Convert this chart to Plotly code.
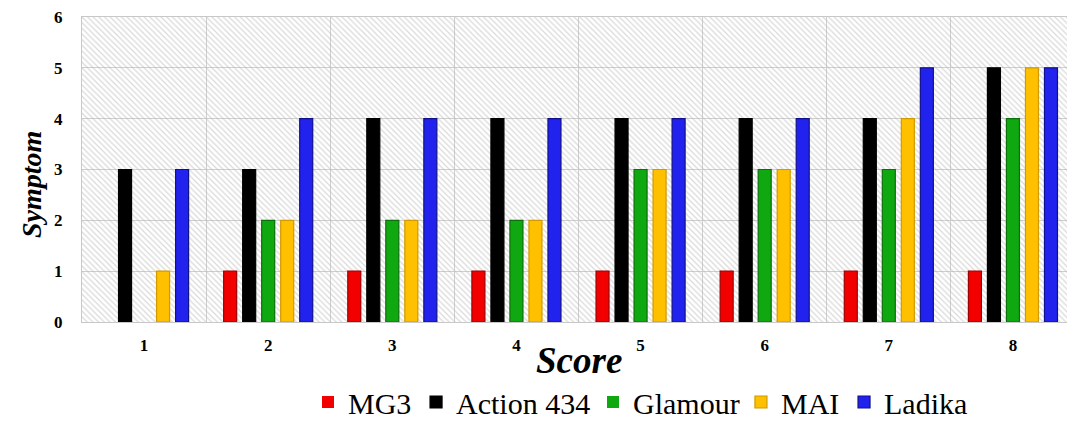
import plotly.graph_objects as go

scores = [1, 2, 3, 4, 5, 6, 7, 8]
series_names = ["MG3", "Action 434", "Glamour", "MAI", "Ladika"]
mg3 = [0, 1, 1, 1, 1, 1, 1, 1]
action434 = [3, 3, 4, 4, 4, 4, 4, 5]
glamour = [0, 2, 2, 2, 3, 3, 3, 4]
mai = [1, 2, 2, 2, 3, 3, 4, 5]
ladika = [3, 4, 4, 4, 4, 4, 5, 5]
y_ticks = [0, 1, 2, 3, 4, 5, 6]

colors = ["#f20000", "#000000", "#10a810", "#ffc000", "#2222ee"]
edges = ["#a00000", "#000000", "#0a700a", "#d09a00", "#10108a"]
values = [mg3, action434, glamour, mai, ladika]
legend_ids = ["legend", "legend2", "legend3", "legend4", "legend5"]
legend_x = [0.2276, 0.3364, 0.5146, 0.6636, 0.7674]

FONT = "Liberation Serif, Times New Roman, serif"
ymax = max(y_ticks)
n = len(scores)

fig = go.Figure()

# hatched background on main axes
fig.add_trace(go.Bar(
    x=[(scores[0] + scores[-1]) / 2], y=[ymax], width=[n],
    marker=dict(color="rgba(0,0,0,0)", line=dict(width=0),
                pattern=dict(shape="\\", fgcolor="#b4b4b4", bgcolor="rgba(0,0,0,0)",
                             size=4, solidity=0.3)),
    showlegend=False, hoverinfo="skip", xaxis="x", yaxis="y"))

for name, vals, c, e, lg in zip(series_names, values, colors, edges, legend_ids):
    fig.add_trace(go.Bar(
        x=scores, y=vals, name=name, legend=lg,
        marker=dict(color=c, line=dict(color=e, width=[1.2 if v else 0 for v in vals])),
        xaxis="x2", yaxis="y2"))

legend_style = dict(orientation="h", y=-0.177, xanchor="left", yanchor="top",
                    font=dict(size=30, family=FONT, color="black"),
                    itemwidth=30, bgcolor="rgba(0,0,0,0)")
legends = {lg: dict(legend_style, x=lx) for lg, lx in zip(legend_ids, legend_x)}

xr = [scores[0] - 0.5, scores[-1] + 0.5]
tickfont = dict(size=17, family=FONT, color="black", weight="bold")
fig.update_layout(
    width=1067, height=413,
    margin=dict(l=74, r=0, t=9, b=99, autoexpand=False),
    paper_bgcolor="white", plot_bgcolor="white",
    barmode="group", bargap=0.234, bargroupgap=0.316,
    font=dict(family=FONT, color="black"),
    xaxis=dict(range=xr, tickvals=scores, ticktext=[str(s) for s in scores],
               tickfont=tickfont, automargin=False, ticklabeloverflow="allow",
               ticks="", showgrid=False, zeroline=False, ticklabelstandoff=8,
               minor=dict(tickvals=[s + 0.5 for s in scores[:-1]], showgrid=True,
                          gridcolor="#cfcfcf", gridwidth=1, ticks=""),
               showline=True, linecolor="#c8c8c8", mirror=True),
    yaxis=dict(range=[0, ymax], tickvals=y_ticks, tickfont=tickfont, automargin=False,
               ticklabeloverflow="allow",
               ticks="", showgrid=True, gridcolor="#cfcfcf", zeroline=False,
               showline=True, linecolor="#c8c8c8", mirror=True, ticklabelstandoff=15),
    xaxis2=dict(range=xr, overlaying="x", visible=False),
    yaxis2=dict(range=[0, ymax], overlaying="y", visible=False),
    annotations=[
        dict(text="<b><i>Score</i></b>", x=0.5, y=-0.052, xref="paper", yref="paper",
             xanchor="center", yanchor="top", showarrow=False,
             font=dict(size=37, family=FONT, color="black")),
        dict(text="<b><i>Symptom</i></b>", x=-0.051, y=0.45, xref="paper", yref="paper",
             xanchor="center", yanchor="middle", showarrow=False, textangle=-90,
             font=dict(size=28, family=FONT, color="black")),
    ],
    **legends,
)

fig.write_html("out.html")
